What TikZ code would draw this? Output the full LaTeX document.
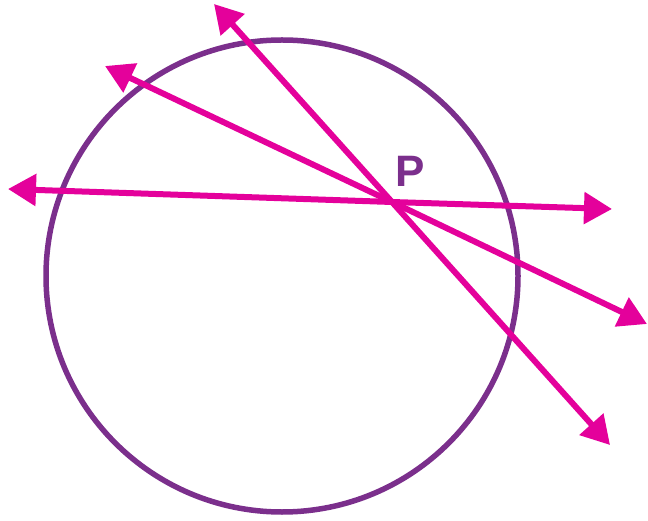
\documentclass[tikz,border=0pt]{standalone}
\usepackage{fontspec}
\setmainfont{Liberation Sans}
\usetikzlibrary{arrows.meta}
\definecolor{ringpurple}{HTML}{7B2F8C}
\definecolor{linemag}{HTML}{E4019B}
\tikzset{
  ring/.style={draw=ringpurple, line width=5.5pt},
  secant/.style={draw=linemag, line width=6pt, {Triangle[length=28pt,width=31pt]}-{Triangle[length=28pt,width=31pt]}},
}
\begin{document}
\begin{tikzpicture}[x=1pt,y=-1pt]
\useasboundingbox (0,0) rectangle (648,521);
\node[ring, circle, minimum size=472pt, inner sep=0pt] (c) at (282,276) {};
\coordinate (P) at (392,202);
\coordinate (a1) at (8,189);
\coordinate (a2) at (612,209);
\coordinate (b1) at (105,66);
\coordinate (b2) at (647,324);
\coordinate (d1) at (214,4);
\coordinate (d2) at (610,445);
\draw[secant] (a1) -- (P) -- (a2);
\draw[secant] (b1) -- (P) -- (b2);
\draw[secant] (d1) -- (P) -- (d2);
\node[text=ringpurple, font=\bfseries\fontsize{44}{44}\selectfont, inner sep=0pt] (lp) at (410,171) {P};
\end{tikzpicture}
\end{document}
